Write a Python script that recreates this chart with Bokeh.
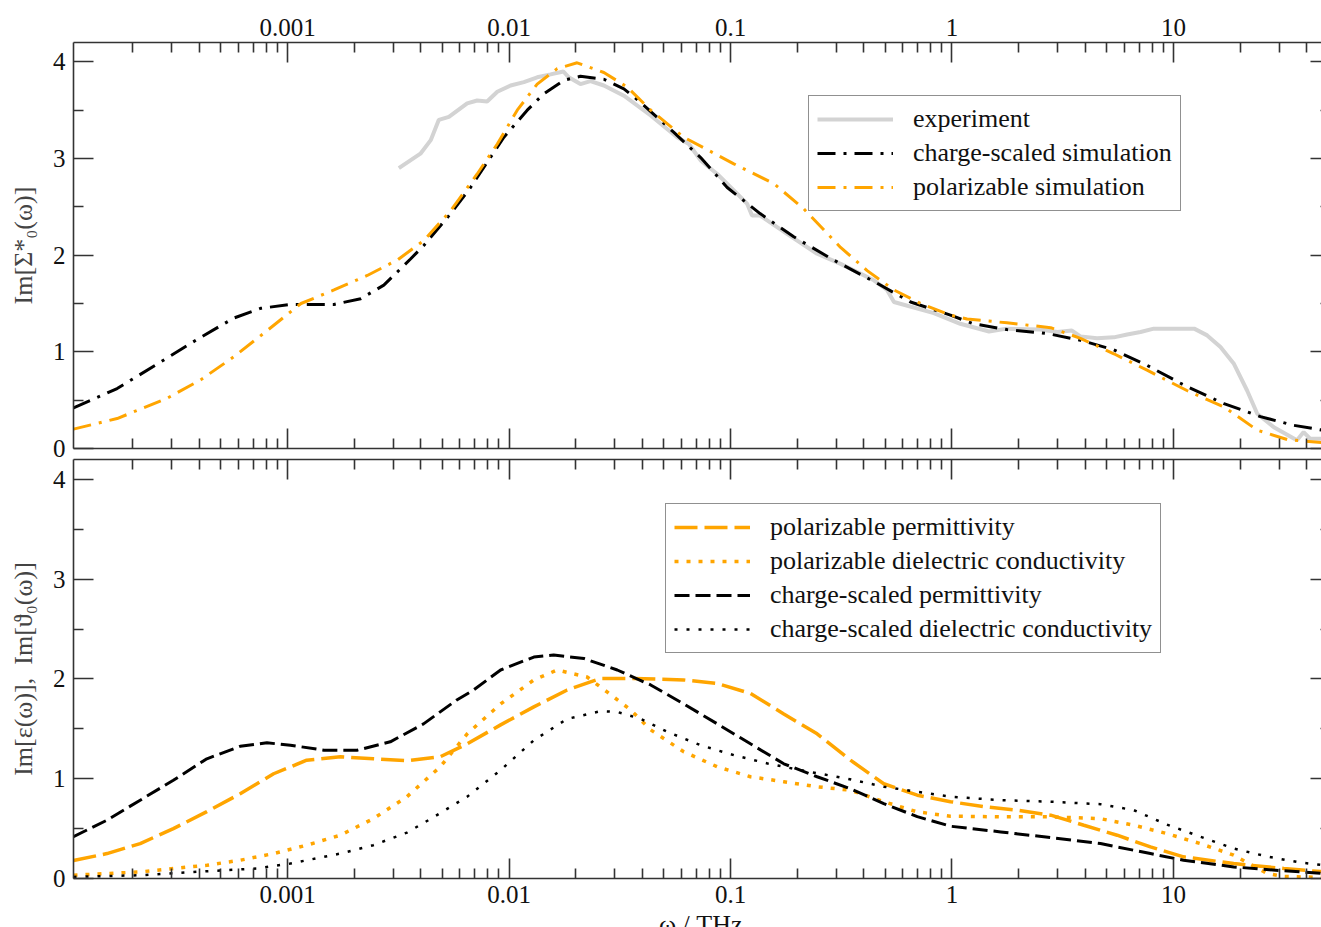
from bokeh.plotting import figure
from bokeh.models import (LogAxis, LinearAxis, FixedTicker, CustomJSTickFormatter,
                          Range1d, Legend, LegendItem, Div)
from bokeh.layouts import column
from bokeh.embed import file_html
from bokeh.resources import INLINE

# ---------------- data ----------------
# x: omega / THz
x_tick_values = [0.001, 0.01, 0.1, 1, 10]
x_tick_labels = ["0.001", "0.01", "0.1", "1", "10"]
y_tick_values = [0, 1, 2, 3, 4]
x_axis_title = "ω / THz"

exp_omega = [3.18e-3, 3.98e-3, 4.43e-3, 4.82e-3, 5.35e-3, 6.47e-3, 7.18e-3, 7.96e-3, 8.85e-3,
             1.016e-2, 1.167e-2, 1.34e-2, 1.54e-2, 1.76e-2, 1.86e-2, 2.10e-2, 2.33e-2, 2.68e-2,
             3.30e-2, 4.36e-2, 5.74e-2, 6.49e-2, 7.33e-2, 8.71e-2, 0.1035, 0.119, 0.125, 0.136,
             0.180, 0.246, 0.314, 0.444, 0.509, 0.547, 0.828, 1.09, 1.47, 1.77, 2.51, 2.99, 3.48,
             3.80, 4.52, 5.38, 6.18, 7.10, 8.15, 10.4, 12.4, 14.2, 16.3, 18.7, 21.5, 23.9, 28.4,
             36.1, 38.7, 41.5, 50.0]
exp_vals = [2.90, 3.05, 3.19, 3.40, 3.43, 3.57, 3.60, 3.59, 3.69,
            3.755, 3.79, 3.84, 3.87, 3.90, 3.84, 3.77, 3.80, 3.755,
            3.65, 3.445, 3.22, 3.15, 2.98, 2.84, 2.67, 2.53, 2.41, 2.41,
            2.22, 2.015, 1.91, 1.74, 1.64, 1.515, 1.40, 1.29, 1.21, 1.24, 1.23, 1.205, 1.22,
            1.16, 1.14, 1.15, 1.18, 1.205, 1.24, 1.24, 1.24, 1.17, 1.05, 0.88, 0.60, 0.36, 0.22,
            0.086, 0.17, 0.10, 0.10]

cs_sim_omega = [1.08e-4, 1.70e-4, 2.67e-4, 4.05e-4, 5.73e-4, 7.55e-4, 1.03e-3, 1.62e-3, 2.14e-3,
                2.72e-3, 3.59e-3, 4.12e-3, 5.45e-3, 6.70e-3, 8.24e-3, 9.48e-3, 1.208e-2, 1.435e-2,
                1.77e-2, 2.10e-2, 2.68e-2, 3.30e-2, 3.93e-2, 5.55e-2, 7.33e-2, 9.66e-2, 0.136,
                0.193, 0.292, 0.459, 0.650, 0.984, 1.25, 1.77, 2.69, 3.80, 5.38, 7.60, 11.5, 16.9,
                24.7, 34.9, 50.0]
cs_sim_vals = [0.42, 0.62, 0.895, 1.15, 1.35, 1.45, 1.49, 1.49, 1.55,
               1.69, 1.96, 2.10, 2.43, 2.70, 3.01, 3.22, 3.50, 3.67,
               3.81, 3.85, 3.82, 3.72, 3.58, 3.27, 3.01, 2.70, 2.43,
               2.19, 1.95, 1.71, 1.515, 1.38, 1.29, 1.23, 1.19, 1.12, 1.02, 0.86, 0.64, 0.465,
               0.33, 0.24, 0.18]

pol_sim_omega = [1.08e-4, 1.70e-4, 2.86e-4, 4.05e-4, 5.73e-4, 8.09e-4, 1.15e-3, 1.62e-3, 2.29e-3,
                 3.13e-3, 4.12e-3, 5.45e-3, 7.18e-3, 8.85e-3, 1.089e-2, 1.34e-2, 1.65e-2, 2.03e-2,
                 2.68e-2, 3.41e-2, 4.36e-2, 6.15e-2, 0.1035, 0.157, 0.214, 0.314, 0.414, 0.547,
                 0.721, 0.984, 1.17, 1.77, 2.79, 3.80, 5.38, 7.60, 11.5, 16.9, 23.9, 32.6, 50.0]
pol_sim_vals = [0.20, 0.31, 0.52, 0.71, 0.95, 1.22, 1.50, 1.64, 1.79,
                1.95, 2.15, 2.46, 2.84, 3.15, 3.50, 3.77, 3.93, 3.99,
                3.89, 3.74, 3.50, 3.22, 2.945, 2.74, 2.48, 2.08, 1.84, 1.64,
                1.50, 1.38, 1.34, 1.30, 1.25, 1.14, 0.98, 0.81, 0.60, 0.43, 0.19, 0.093, 0.055]

pol_perm_omega = [1.08e-4, 1.53e-4, 2.16e-4, 3.05e-4, 4.32e-4, 6.11e-4, 8.65e-4, 1.22e-3, 1.73e-3,
                  2.44e-3, 3.46e-3, 4.89e-3, 6.47e-3, 9.16e-3, 1.294e-2, 1.83e-2, 2.59e-2, 3.66e-2,
                  6.15e-2, 8.71e-2, 0.123, 0.174, 0.246, 0.348, 0.492, 0.697, 0.984, 1.39, 1.97,
                  2.79, 3.94, 5.57, 7.87, 11.1, 18.7, 31.5, 50.0]
pol_perm_vals = [0.18, 0.25, 0.35, 0.50, 0.67, 0.85, 1.05, 1.186, 1.22,
                 1.20, 1.18, 1.22, 1.35, 1.54, 1.72, 1.89, 2.005, 2.005,
                 1.99, 1.955, 1.855, 1.65, 1.45, 1.186, 0.95, 0.835, 0.77, 0.72, 0.685,
                 0.635, 0.534, 0.434, 0.317, 0.217, 0.15, 0.10, 0.063]

pol_cond_omega = [1.08e-4, 1.53e-4, 2.16e-4, 3.05e-4, 4.32e-4, 6.11e-4, 8.65e-4, 1.22e-3, 1.73e-3,
                  2.44e-3, 3.46e-3, 4.89e-3, 6.47e-3, 9.16e-3, 1.294e-2, 1.65e-2, 2.25e-2, 2.77e-2,
                  3.54e-2, 4.36e-2, 6.15e-2, 8.71e-2, 0.123, 0.174, 0.246, 0.348, 0.492, 0.697,
                  0.984, 1.66, 2.79, 4.68, 6.62, 9.35, 13.2, 18.7, 26.5, 31.5, 50.0]
pol_cond_vals = [0.033, 0.05, 0.066, 0.10, 0.133, 0.183, 0.25, 0.334, 0.434,
                 0.60, 0.82, 1.12, 1.45, 1.75, 1.99, 2.09, 2.02, 1.87,
                 1.69, 1.49, 1.27, 1.12, 1.02, 0.97, 0.92, 0.885, 0.77, 0.668,
                 0.625, 0.618, 0.618, 0.60, 0.534, 0.45, 0.35, 0.234, 0.05, 0.02, 0.01]

cs_perm_omega = [1.08e-4, 1.53e-4, 2.16e-4, 3.05e-4, 4.32e-4, 6.11e-4, 8.07e-4, 1.03e-3, 1.46e-3,
                 2.06e-3, 2.91e-3, 4.11e-3, 5.81e-3, 6.92e-3, 9.16e-3, 1.294e-2, 1.59e-2, 2.18e-2,
                 3.08e-2, 4.36e-2, 6.15e-2, 8.71e-2, 0.123, 0.174, 0.246, 0.348, 0.492, 0.697,
                 0.984, 1.66, 2.79, 4.68, 7.87, 11.1, 18.7, 31.5, 50.0]
cs_perm_vals = [0.42, 0.585, 0.785, 0.985, 1.20, 1.325, 1.36, 1.336, 1.286,
                1.286, 1.37, 1.55, 1.79, 1.89, 2.09, 2.22, 2.24, 2.205,
                2.09, 1.94, 1.75, 1.55, 1.35, 1.15, 1.02, 0.90, 0.75, 0.62,
                0.524, 0.467, 0.41, 0.35, 0.25, 0.183, 0.116, 0.077, 0.048]

cs_cond_omega = [1.08e-4, 2.16e-4, 4.32e-4, 7.26e-4, 1.03e-3, 1.73e-3, 2.44e-3, 3.46e-3, 4.58e-3,
                 6.47e-3, 9.16e-3, 1.294e-2, 1.83e-2, 2.59e-2, 3.08e-2, 3.93e-2, 5.18e-2, 7.33e-2,
                 0.1035, 0.147, 0.207, 0.337, 0.492, 0.697, 0.984, 1.66, 2.79, 4.68, 6.62, 9.35,
                 13.2, 18.7, 26.5, 37.4, 50.0]
cs_cond_vals = [0.016, 0.033, 0.073, 0.10, 0.15, 0.25, 0.334, 0.46, 0.617,
                0.82, 1.086, 1.386, 1.60, 1.677, 1.67, 1.60, 1.47, 1.336,
                1.236, 1.153, 1.086, 1.00, 0.92, 0.87, 0.82, 0.785, 0.77, 0.745, 0.685, 0.54,
                0.42, 0.30, 0.22, 0.16, 0.128]

# ---------------- styling ----------------
FONT = "Liberation Serif"
ORANGE = "#ffa500"
GRAY = "#d3d3d3"
AX = "#333333"
X_START, X_END = 1.08e-4, 46.6
Y_START, Y_END = 0, 4.2

minor_x = [m * 10.0 ** k for k in range(-4, 2) for m in range(2, 10)]
minor_y = [0.5, 1.5, 2.5, 3.5]


def xticker():
    return FixedTicker(ticks=x_tick_values, minor_ticks=minor_x)


def yticker():
    return FixedTicker(ticks=y_tick_values, minor_ticks=minor_y)


def style_axis(ax, labels, major_in=20, minor_in=10, line=True):
    ax.major_tick_in = major_in
    ax.major_tick_out = 0
    ax.minor_tick_in = minor_in
    ax.minor_tick_out = 0
    ax.axis_line_color = AX if line else None
    ax.axis_line_width = 1.6
    ax.major_tick_line_color = AX
    ax.major_tick_line_width = 1.6
    ax.minor_tick_line_color = AX
    ax.minor_tick_line_width = 1.6
    if labels:
        ax.major_label_text_font = FONT
        ax.major_label_text_font_size = "25px"
        ax.major_label_text_color = "#111111"
    else:
        ax.major_label_text_font_size = "0px"
        ax.major_label_standoff = 0
        ax.formatter = CustomJSTickFormatter(code="return ''")


xfmt_code = "var labels = %s; var vals = %s; for (var i = 0; i < vals.length; i++) { if (Math.abs(Math.log10(tick) - Math.log10(vals[i])) < 1e-6) return labels[i]; } return '';" % (
    str(x_tick_labels).replace("'", '"'), str(x_tick_values))


def make_fig(height, top, bottom, x_loc):
    p = figure(width=1321, height=height, x_axis_type="log",
               x_range=Range1d(X_START, X_END), y_range=Range1d(Y_START, Y_END),
               x_axis_location=x_loc, output_backend="svg", toolbar_location=None,
               min_border_left=73, min_border_right=0, min_border_top=top,
               min_border_bottom=bottom)
    p.grid.visible = False
    p.outline_line_color = None
    p.background_fill_color = "white"
    p.border_fill_color = "white"
    xa = p.above[0] if x_loc == "above" else p.below[0]
    xa.ticker = xticker()
    xa.formatter = CustomJSTickFormatter(code=xfmt_code)
    style_axis(xa, True)
    xa.major_label_standoff = 7
    xb = LogAxis(ticker=xticker())
    style_axis(xb, False)
    p.add_layout(xb, "below" if x_loc == "above" else "above")
    ya = p.left[0]
    ya.ticker = yticker()
    style_axis(ya, True)
    ya.major_label_standoff = 8
    ya.axis_label_text_font = FONT
    ya.axis_label_text_font_size = "26px"
    ya.axis_label_text_font_style = "normal"
    ya.axis_label_standoff = 12
    yr = LinearAxis(ticker=yticker())
    style_axis(yr, False, major_in=11, minor_in=1, line=False)
    p.add_layout(yr, "right")
    return p


# ---------------- top panel ----------------
p1 = make_fig(458, 42, 10, "above")
p1.left[0].axis_label = "Im[Σ*₀(ω)]"
r_exp = p1.line(exp_omega, exp_vals, line_color=GRAY, line_width=4)
r_cs = p1.line(cs_sim_omega, cs_sim_vals, line_color="black", line_width=3,
               line_dash="18 8 3 8")
r_pol = p1.line(pol_sim_omega, pol_sim_vals, line_color=ORANGE, line_width=3,
                line_dash="18 8 3 8")

leg1 = Legend(items=[LegendItem(label="experiment", renderers=[r_exp]),
                     LegendItem(label="charge-scaled simulation", renderers=[r_cs]),
                     LegendItem(label="polarizable simulation", renderers=[r_pol])],
              location=(735, 237))

# ---------------- bottom panel ----------------
p2 = make_fig(457, 1, 37, "below")
p2.left[0].axis_label = "Im[ε(ω)],\u00a0\u00a0Im[ϑ₀(ω)]"
r_pp = p2.line(pol_perm_omega, pol_perm_vals, line_color=ORANGE, line_width=3.5,
               line_dash="23 7")
r_pc = p2.line(pol_cond_omega, pol_cond_vals, line_color=ORANGE, line_width=3.5,
               line_dash="4 8")
r_cp = p2.line(cs_perm_omega, cs_perm_vals, line_color="black", line_width=3,
               line_dash="15 6")
r_cc = p2.line(cs_cond_omega, cs_cond_vals, line_color="black", line_width=2.5,
               line_dash="3 9")

leg2 = Legend(items=[LegendItem(label="polarizable permittivity", renderers=[r_pp]),
                     LegendItem(label="polarizable dielectric conductivity", renderers=[r_pc]),
                     LegendItem(label="charge-scaled permittivity", renderers=[r_cp]),
                     LegendItem(label="charge-scaled dielectric conductivity", renderers=[r_cc])],
              location=(592, 225))

for leg, p in ((leg1, p1), (leg2, p2)):
    leg.label_text_font = FONT
    leg.label_text_font_size = "26px"
    leg.label_text_color = "#111111"
    leg.glyph_width = 76
    leg.glyph_height = 20
    leg.label_height = 20
    leg.label_standoff = 20
    leg.padding = 8
    leg.spacing = 4
    leg.margin = 0
    leg.border_line_color = "#222222"
    leg.border_line_width = 1.5
    leg.background_fill_color = "white"
    leg.background_fill_alpha = 1.0
    p.add_layout(leg, "center")

# x-axis title: only its upper part is visible at the bottom edge of the page
xtitle = Div(
    text=('<div style="margin-left:659px; font-family:\'Liberation Serif\', serif; '
          'font-size:26px; line-height:20px; color:#111111; white-space:nowrap;">'
          + x_axis_title + '</div>'),
    width=1321, height=12, margin=0,
    styles={"overflow": "hidden", "background-color": "white"})

layout = column(p1, p2, xtitle, spacing=0)
open("out.html", "w").write(file_html(layout, INLINE))
